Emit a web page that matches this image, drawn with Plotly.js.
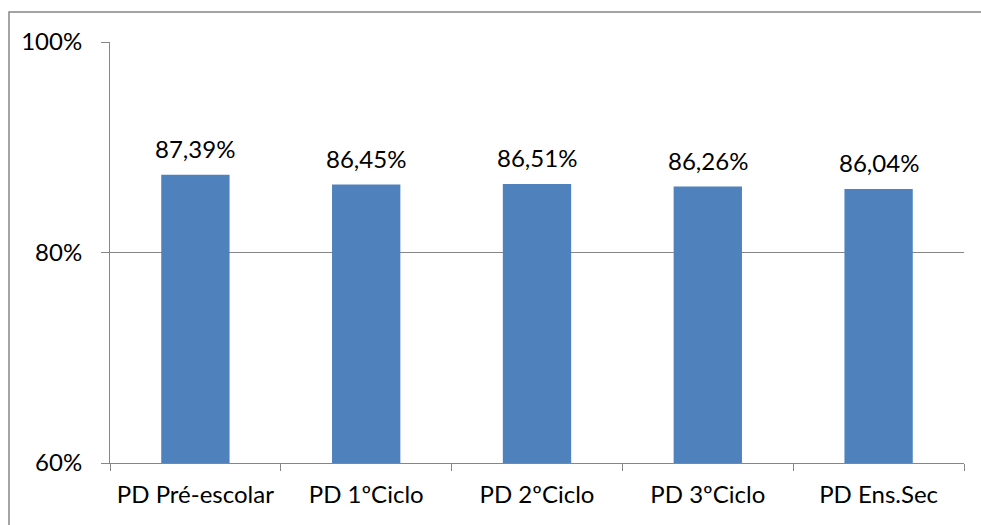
<!DOCTYPE html>
<html>
<head>
<meta charset="utf-8">
<script src="https://cdn.plot.ly/plotly-3.0.1.min.js"></script>
<style>html,body{margin:0;padding:0;background:#fff;}#chart{width:981px;height:525px;}</style>
</head>
<body>
<div id="chart"></div>
<script>
const categories = ["PD Pré-escolar", "PD 1ºCiclo", "PD 2ºCiclo", "PD 3ºCiclo", "PD Ens.Sec"];
const values = [87.39, 86.45, 86.51, 86.26, 86.04];
const valueLabels = ["87,39%", "86,45%", "86,51%", "86,26%", "86,04%"];
const tickValues = [60, 80, 100];
const tickLabels = ["60%", "80%", "100%"];

const FONT = "Lato, 'Open Sans', sans-serif";
const FS = 24;

const trace = {
  type: "bar",
  x: categories,
  y: values,
  marker: {color: "#4F81BD"},
  width: 0.4,
  hoverinfo: "skip"
};

const annotations = categories.map((c, i) => ({
  x: c, y: values[i], xref: "x", yref: "y",
  text: valueLabels[i], showarrow: false,
  yanchor: "bottom", yshift: 10,
  font: {family: FONT, size: FS, color: "#000"}
}));

const layout = {
  width: 981, height: 525,
  margin: {l: 110, r: 17, t: 42, b: 62},
  paper_bgcolor: "#fff", plot_bgcolor: "#fff",
  showlegend: false,
  font: {family: FONT, size: FS, color: "#000"},
  xaxis: {
    showline: true, linecolor: "#868686", linewidth: 1,
    ticks: "outside", ticklen: 7, tickcolor: "#868686",
    tickson: "boundaries",
    ticklabelstandoff: 10,
    showgrid: false,
    tickfont: {family: FONT, size: FS, color: "#000"}
  },
  yaxis: {
    range: [60, 100], tickvals: tickValues, ticktext: tickLabels,
    showline: true, linecolor: "#868686", linewidth: 1,
    ticks: "outside", ticklen: 8, tickcolor: "#868686",
    ticklabelstandoff: 14,
    showgrid: true, gridcolor: "#868686", gridwidth: 1,
    zeroline: false,
    tickfont: {family: FONT, size: FS, color: "#000"}
  },
  annotations: annotations,
  shapes: [{
    type: "rect", xref: "paper", yref: "paper",
    x0: (9 - 110) / 854, x1: 1.2,
    y0: -0.3, y1: (463 - 12) / 421,
    line: {color: "#868686", width: 1.5}, fillcolor: "rgba(0,0,0,0)", layer: "below"
  }]
};

Plotly.newPlot("chart", [trace], layout, {staticPlot: true, displayModeBar: false});
</script>
</body>
</html>
